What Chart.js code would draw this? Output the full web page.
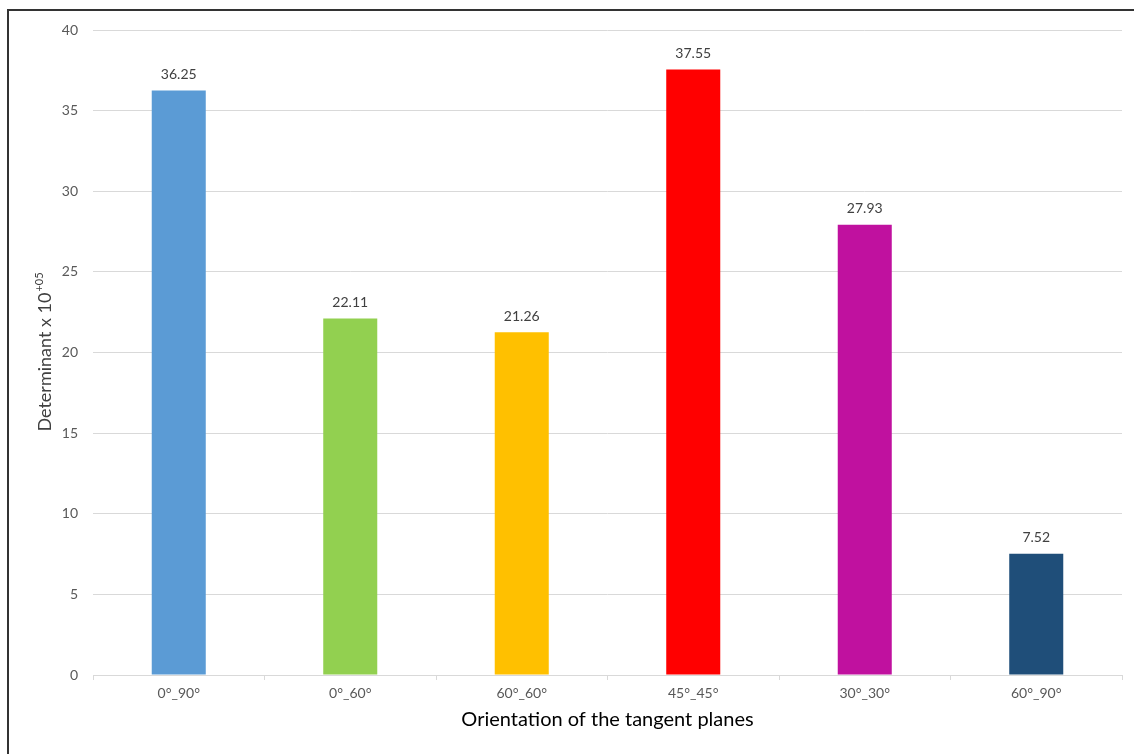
<!DOCTYPE html>
<html>

<head>
    <style>
        body {
            margin: 0;
            background: #fff;
        }

        .frame {
            position: relative;
            width: 1134px;
            height: 754px;
        }

        .frame::before {
            content: '';
            position: absolute;
            left: 7px;
            top: 9px;
            right: 0;
            bottom: 0;
            border-left: 2px solid #333;
            border-top: 2px solid #333;
            pointer-events: none;
        }
    </style>
    <script src="https://cdn.jsdelivr.net/npm/chart.js"></script>
    <title>Determinant by orientation</title>
</head>

<body>
    <div class="frame">
        <canvas id="det_chart" width="1134" height="754"></canvas>
    </div>

    <script>
        const orientations = ['0°_90°', '0°_60°', '60°_60°', '45°_45°', '30°_30°', '60°_90°'];
        const determinants = [36.25, 22.11, 21.26, 37.55, 27.93, 7.52];
        const barColors = ['#5B9BD5', '#92D050', '#FFC000', '#FF0000', '#C0119F', '#1F4E79'];

        const fontFamily = "Lato, 'Open Sans', sans-serif";

        // value above each bar
        const valueLabels = {
            id: 'valueLabels',
            afterDatasetsDraw(chart) {
                const ctx = chart.ctx;
                const meta = chart.getDatasetMeta(0);
                ctx.save();
                ctx.font = `14px ${fontFamily}`;
                ctx.fillStyle = '#404040';
                ctx.textAlign = 'center';
                ctx.textBaseline = 'bottom';
                meta.data.forEach((bar, i) => {
                    ctx.fillText(determinants[i].toFixed(2), bar.x, bar.y - 9);
                });
                ctx.restore();
            }
        };

        // rotated y title with a real superscript exponent
        const yTitle = {
            id: 'yTitle',
            afterDraw(chart) {
                const ctx = chart.ctx;
                const area = chart.chartArea;
                const main = 'Determinant x 10';
                const sup = '+05';
                ctx.save();
                ctx.fillStyle = '#404040';
                ctx.font = `18px ${fontFamily}`;
                const wMain = ctx.measureText(main).width;
                ctx.font = `11px ${fontFamily}`;
                const wSup = ctx.measureText(sup).width;
                ctx.translate(chart.scales.y.left + 51, (area.top + area.bottom) / 2);
                ctx.rotate(-Math.PI / 2);
                ctx.textBaseline = 'alphabetic';
                ctx.textAlign = 'left';
                const start = -(wMain + wSup) / 2;
                ctx.font = `18px ${fontFamily}`;
                ctx.fillText(main, start, 0);
                ctx.font = `11px ${fontFamily}`;
                ctx.fillText(sup, start + wMain + 1, -8);
                ctx.restore();
            }
        };

        const ctx = document.getElementById('det_chart').getContext('2d');
        new Chart(ctx, {
            type: 'bar',
            data: {
                labels: orientations,
                datasets: [{
                    data: determinants,
                    backgroundColor: barColors,
                    barPercentage: 0.315,
                    categoryPercentage: 1
                }]
            },
            options: {
                responsive: false,
                animation: false,
                layout: { padding: { top: 30, right: 12, left: 0, bottom: 0 } },
                plugins: {
                    legend: { display: false },
                    tooltip: { enabled: false }
                },
                scales: {
                    x: {
                        afterFit(axis) { axis.height = 79; },
                        grid: {
                            drawOnChartArea: false,
                            drawTicks: true,
                            tickLength: 5,
                            color: '#d9d9d9'
                        },
                        border: { display: true, color: '#d9d9d9' },
                        ticks: {
                            padding: 5,
                            color: '#595959',
                            font: { family: fontFamily, size: 14 }
                        },
                        title: {
                            display: true,
                            text: 'Orientation of the tangent planes',
                            color: '#000',
                            padding: { top: 0, bottom: 22 },
                            font: { family: fontFamily, size: 20 }
                        }
                    },
                    y: {
                        min: 0,
                        max: 40,
                        afterFit(axis) { axis.width = 93; },
                        grid: {
                            color: '#d9d9d9',
                            drawTicks: false
                        },
                        border: { display: false },
                        ticks: {
                            stepSize: 5,
                            padding: 15,
                            color: '#595959',
                            font: { family: fontFamily, size: 14 }
                        }
                    }
                }
            },
            plugins: [valueLabels, yTitle]
        });
    </script>
</body>

</html>
